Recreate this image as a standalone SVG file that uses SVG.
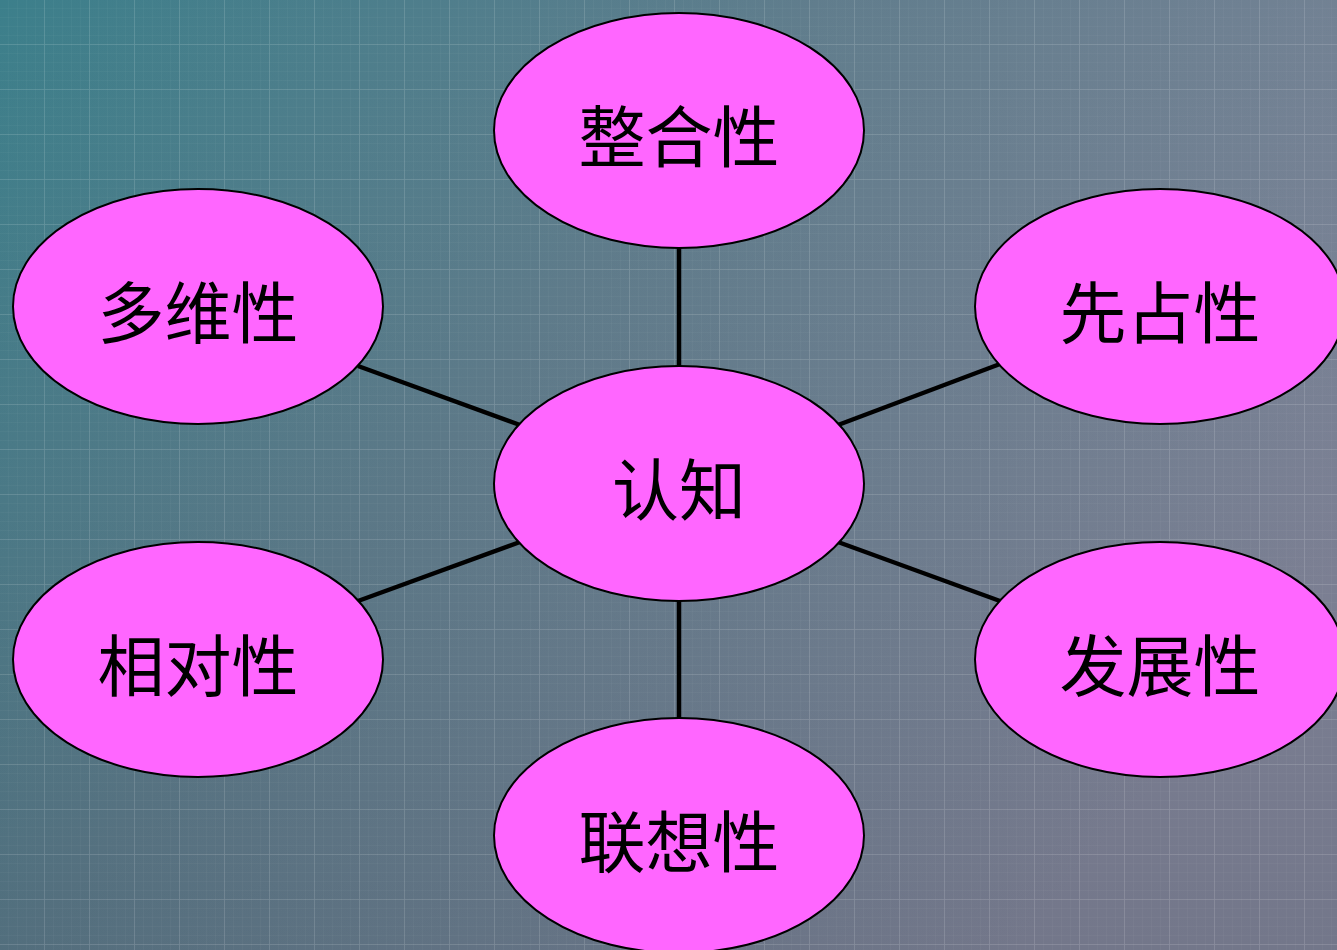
<svg xmlns="http://www.w3.org/2000/svg" width="1337" height="950" viewBox="0 0 1337 950">
  <defs>
    <linearGradient id="bg" x1="0" y1="0" x2="1" y2="0.6">
      <stop offset="0" stop-color="#347a86"/>
      <stop offset="0.45" stop-color="#5a7888"/>
      <stop offset="1" stop-color="#7d8196"/>
    </linearGradient>
    <linearGradient id="shade" x1="0" y1="0" x2="0" y2="1">
      <stop offset="0" stop-color="#ffffff" stop-opacity="0.04"/>
      <stop offset="1" stop-color="#000000" stop-opacity="0.08"/>
    </linearGradient>
    <pattern id="minor" width="9" height="9" patternUnits="userSpaceOnUse">
      <path d="M9 0V9M0 9H9" fill="none" stroke="#ffffff" stroke-opacity="0.05" stroke-width="1"/>
    </pattern>
    <pattern id="major" width="45" height="45" patternUnits="userSpaceOnUse">
      <path d="M45 0V45M0 45H45" fill="none" stroke="#ffffff" stroke-opacity="0.11" stroke-width="2"/>
    </pattern>
    <style>
      .node ellipse { fill: #ff66ff; stroke: #000000; stroke-width: 2; }
      .node text { font-family: "Noto Sans CJK SC", "Noto Sans CJK JP", sans-serif; font-size: 67px; fill: #000000; text-anchor: middle; }
      .edges line { stroke: #000000; stroke-width: 4.5; }
    </style>
  </defs>
  <rect width="1337" height="950" fill="url(#bg)"/>
  <rect width="1337" height="950" fill="url(#shade)"/>
  <rect width="1337" height="950" fill="url(#minor)"/>
  <rect width="1337" height="950" fill="url(#major)"/>
  <g class="edges">
    <line x1="679" y1="248" x2="679" y2="366"/>
    <line x1="679" y1="601" x2="679" y2="718"/>
    <line x1="358" y1="366" x2="520" y2="425"/>
    <line x1="838" y1="425" x2="1000" y2="364"/>
    <line x1="358" y1="601" x2="520" y2="542"/>
    <line x1="838" y1="542" x2="1000" y2="601"/>
  </g>
  <g id="center" class="node"><ellipse cx="679" cy="483.5" rx="185" ry="117.5"/><text x="679" y="515">认知</text></g>
  <g id="top" class="node"><ellipse cx="679" cy="130.5" rx="185" ry="117.5"/><text x="679" y="162">整合性</text></g>
  <g id="left-top" class="node"><ellipse cx="198" cy="306.5" rx="185" ry="117.5"/><text x="198" y="338">多维性</text></g>
  <g id="right-top" class="node"><ellipse cx="1160" cy="306.5" rx="185" ry="117.5"/><text x="1160" y="338">先占性</text></g>
  <g id="left-bottom" class="node"><ellipse cx="198" cy="659.5" rx="185" ry="117.5"/><text x="198" y="691">相对性</text></g>
  <g id="right-bottom" class="node"><ellipse cx="1160" cy="659.5" rx="185" ry="117.5"/><text x="1160" y="691">发展性</text></g>
  <g id="bottom" class="node"><ellipse cx="679" cy="835.5" rx="185" ry="117.5"/><text x="679" y="867">联想性</text></g>
</svg>
